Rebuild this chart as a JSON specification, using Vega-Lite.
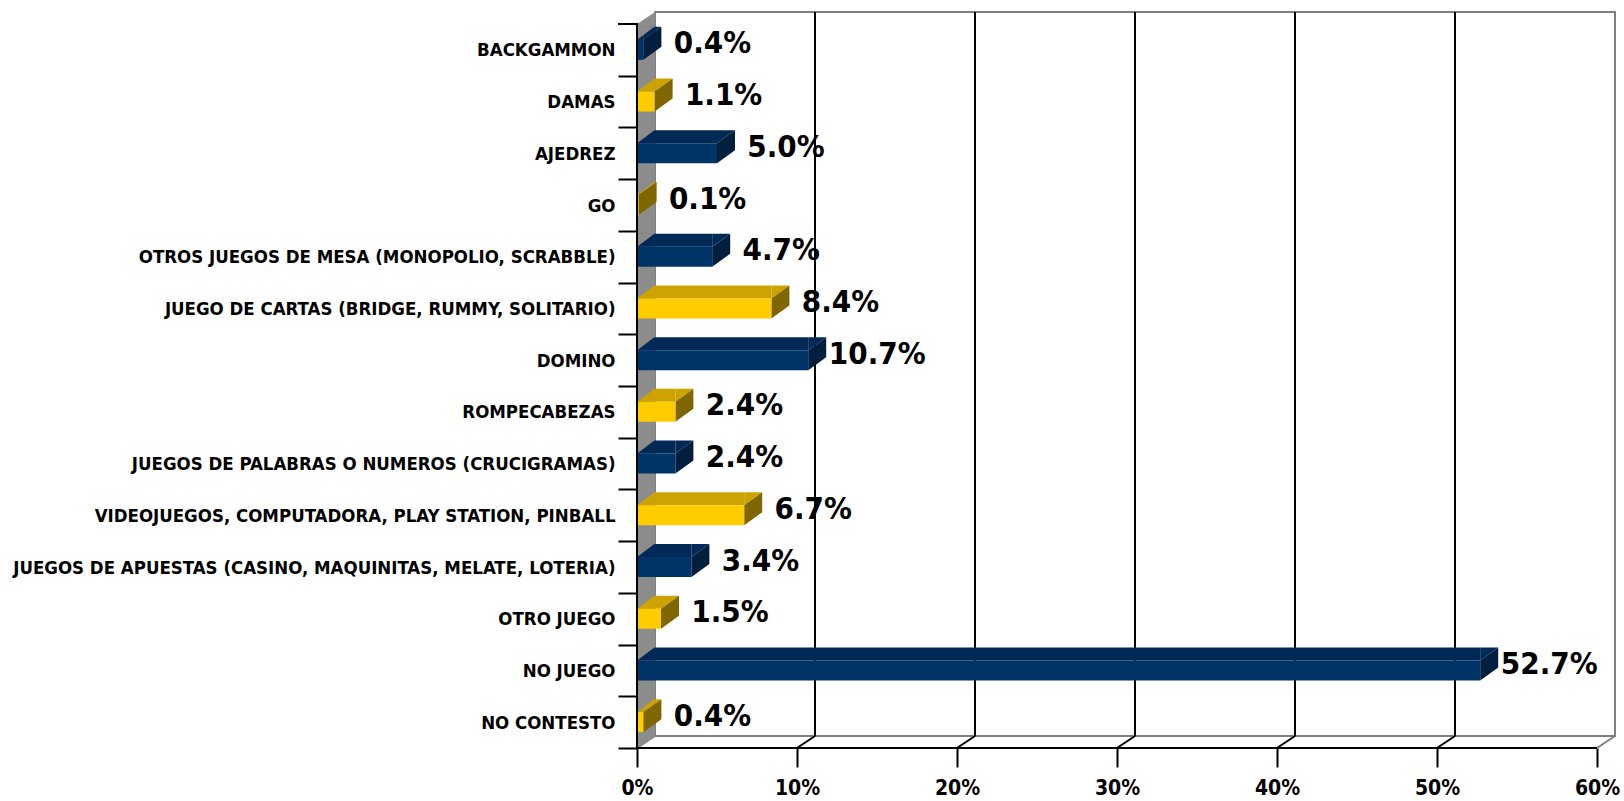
{
  "$schema": "https://vega.github.io/schema/vega-lite/v6.json",
  "width": 960,
  "height": 724,
  "autosize": "none",
  "padding": {"left": 655, "top": 12, "right": 9, "bottom": 65},
  "background": "white",
  "config": {
    "view": {"stroke": "#808080", "strokeWidth": 2},
    "font": "DejaVu Sans Condensed"
  },
  "datasets": {
    "juegos": [
      {"juego": "BACKGAMMON", "pct": 0.004, "grupo": "azul"},
      {"juego": "DAMAS", "pct": 0.011, "grupo": "amarillo"},
      {"juego": "AJEDREZ", "pct": 0.050, "grupo": "azul"},
      {"juego": "GO", "pct": 0.001, "grupo": "amarillo"},
      {"juego": "OTROS JUEGOS DE MESA (MONOPOLIO, SCRABBLE)", "pct": 0.047, "grupo": "azul"},
      {"juego": "JUEGO DE CARTAS (BRIDGE, RUMMY, SOLITARIO)", "pct": 0.084, "grupo": "amarillo"},
      {"juego": "DOMINO", "pct": 0.107, "grupo": "azul"},
      {"juego": "ROMPECABEZAS", "pct": 0.024, "grupo": "amarillo"},
      {"juego": "JUEGOS DE PALABRAS O NUMEROS (CRUCIGRAMAS)", "pct": 0.024, "grupo": "azul"},
      {"juego": "VIDEOJUEGOS, COMPUTADORA, PLAY STATION, PINBALL", "pct": 0.067, "grupo": "amarillo"},
      {"juego": "JUEGOS DE APUESTAS (CASINO, MAQUINITAS, MELATE, LOTERIA)", "pct": 0.034, "grupo": "azul"},
      {"juego": "OTRO JUEGO", "pct": 0.015, "grupo": "amarillo"},
      {"juego": "NO JUEGO", "pct": 0.527, "grupo": "azul"},
      {"juego": "NO CONTESTO", "pct": 0.004, "grupo": "amarillo"}
    ],
    "marcas": [
      {"t": 0}, {"t": 0.1}, {"t": 0.2}, {"t": 0.3}, {"t": 0.4}, {"t": 0.5}, {"t": 0.6}
    ]
  },
  "data": {"name": "juegos"},
  "layer": [
    {
      "data": {"name": "marcas"},
      "transform": [{"filter": "datum.t > 0 && datum.t < 0.55"}],
      "mark": {"type": "rule", "color": "black", "strokeWidth": 2},
      "encoding": {
        "x": {
          "field": "t", "type": "quantitative", "title": null,
          "scale": {"domain": [0, 0.6], "nice": false, "zero": true},
          "axis": {
            "orient": "bottom", "offset": 12, "tickOffset": -18,
            "values": [0, 0.1, 0.2, 0.3, 0.4, 0.5, 0.6], "format": ".0%",
            "domain": false, "grid": false,
            "ticks": true, "tickSize": 19, "tickWidth": 2, "tickColor": "black",
            "labelFont": "DejaVu Sans Condensed", "labelFontWeight": "bold", "labelFontSize": 21,
            "labelColor": "black", "labelPadding": 10, "labelFlush": false
          }
        }
      }
    },
    {
      "data": {"name": "marcas"},
      "mark": {"type": "point", "shape": "M-18,37.857L0,25.857", "size": 4, "filled": false, "strokeWidth": 2, "opacity": 1},
      "encoding": {
        "x": {"field": "t", "type": "quantitative", "title": null},
        "y": {"datum": "NO CONTESTO", "type": "nominal", "title": null},
        "stroke": {"condition": {"test": "datum.t > 0 && datum.t < 0.55", "value": "black"}, "value": "#808080"}
      }
    },
    {
      "data": {"name": "marcas"},
      "transform": [{"filter": "datum.t == 0"}],
      "mark": {"type": "point", "shape": "M-18,-13.857L0,-25.857L0,698.143L-18,710.143Z", "size": 4, "filled": true, "color": "#8C8C8C", "strokeWidth": 0, "opacity": 1},
      "encoding": {
        "x": {"field": "t", "type": "quantitative", "title": null},
        "y": {"datum": "BACKGAMMON", "type": "nominal", "title": null}
      }
    },
    {
      "mark": {"type": "bar", "size": 13, "yOffset": -4.5, "xOffset": -18, "x2Offset": -18},
      "encoding": {
        "y": {
          "field": "juego", "type": "nominal", "title": null,
          "scale": {
            "domain": ["BACKGAMMON", "DAMAS", "AJEDREZ", "GO", "OTROS JUEGOS DE MESA (MONOPOLIO, SCRABBLE)", "JUEGO DE CARTAS (BRIDGE, RUMMY, SOLITARIO)", "DOMINO", "ROMPECABEZAS", "JUEGOS DE PALABRAS O NUMEROS (CRUCIGRAMAS)", "VIDEOJUEGOS, COMPUTADORA, PLAY STATION, PINBALL", "JUEGOS DE APUESTAS (CASINO, MAQUINITAS, MELATE, LOTERIA)", "OTRO JUEGO", "NO JUEGO", "NO CONTESTO"],
            "paddingInner": 0, "paddingOuter": 0
          },
          "axis": {
            "orient": "left", "offset": 18, "tickOffset": 37.857, "labelOffset": -25.857,
            "domain": false, "grid": false,
            "ticks": true, "tickSize": 19, "tickWidth": 2, "tickColor": "black",
            "labelFont": "DejaVu Sans Condensed", "labelFontWeight": "bold", "labelFontSize": 18.5,
            "labelColor": "black", "labelPadding": 3, "labelLimit": 800
          }
        },
        "x": {"field": "pct", "type": "quantitative", "title": null},
        "x2": {"datum": 0},
        "color": {"condition": {"test": "datum.grupo == 'azul'", "value": "#002A55"}, "value": "#CCA300"}
      }
    },
    {
      "mark": {"type": "point", "shape": "M-18,2L-18,-11L0,-11Z", "size": 4, "filled": true, "strokeWidth": 0, "opacity": 1},
      "encoding": {
        "y": {"field": "juego", "type": "nominal", "title": null},
        "x": {"field": "pct", "type": "quantitative", "title": null},
        "color": {"condition": {"test": "datum.grupo == 'azul'", "value": "#002A55"}, "value": "#CCA300"}
      }
    },
    {
      "mark": {"type": "point", "shape": "M-18,2L0,-11L0,9L-18,22Z", "size": 4, "filled": true, "strokeWidth": 0, "opacity": 1},
      "encoding": {
        "y": {"field": "juego", "type": "nominal", "title": null},
        "x": {"field": "pct", "type": "quantitative", "title": null},
        "color": {"condition": {"test": "datum.grupo == 'azul'", "value": "#001E3D"}, "value": "#806600"}
      }
    },
    {
      "mark": {"type": "point", "shape": "M-18.5,2.5L-18.5,-11.5L0,-11.5Z", "size": 4, "filled": true, "strokeWidth": 0, "opacity": 1, "color": "#8C8C8C"},
      "encoding": {
        "y": {"field": "juego", "type": "nominal", "title": null},
        "x": {"datum": 0}
      }
    },
    {
      "mark": {"type": "bar", "size": 20, "yOffset": 12, "xOffset": -18, "x2Offset": -18},
      "encoding": {
        "y": {"field": "juego", "type": "nominal", "title": null},
        "x": {"field": "pct", "type": "quantitative", "title": null},
        "x2": {"datum": 0},
        "color": {"condition": {"test": "datum.grupo == 'azul'", "value": "#003366"}, "value": "#FFCC00"}
      }
    },
    {
      "data": {"name": "marcas"},
      "transform": [{"filter": "datum.t == 0"}],
      "mark": {"type": "point", "shape": "M-37,-13.857L-18,-13.857L-18,710.143L942,710.143", "size": 4, "filled": false, "color": "black", "strokeWidth": 2, "opacity": 1},
      "encoding": {
        "x": {"field": "t", "type": "quantitative", "title": null},
        "y": {"datum": "BACKGAMMON", "type": "nominal", "title": null}
      }
    },
    {
      "mark": {"type": "text", "align": "center", "baseline": "middle", "dx": 51, "dy": 6.5, "font": "DejaVu Sans Condensed", "fontWeight": "bold", "fontSize": 31, "color": "black"},
      "encoding": {
        "y": {"field": "juego", "type": "nominal", "title": null},
        "x": {"field": "pct", "type": "quantitative", "title": null},
        "text": {"field": "pct", "type": "quantitative", "format": ".1%"}
      }
    }
  ]
}
